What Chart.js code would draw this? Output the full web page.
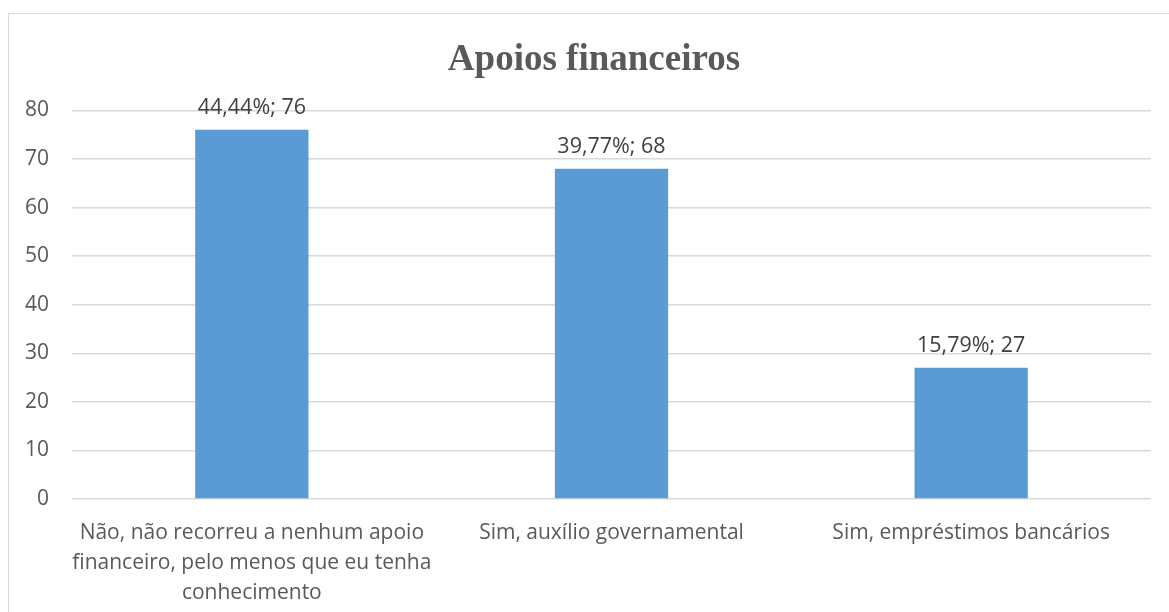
<!DOCTYPE html>
<html>
<head>
<meta charset="utf-8">
<script src="https://cdn.jsdelivr.net/npm/chart.js@4/dist/chart.umd.min.js"></script>
<style>
  html, body { margin: 0; padding: 0; background: #fff; }
  #frame { position: absolute; left: 8px; top: 13px; width: 1200px; height: 700px; border: 1px solid #d9d9d9; }
  #wrap { position: absolute; left: 0; top: 0; width: 1169px; height: 612px; }
</style>
</head>
<body>
<div id="frame"></div>
<div id="wrap"><canvas id="chart"></canvas></div>
<script>
// values
const categories = [
  ['Não, não recorreu a nenhum apoio', 'financeiro, pelo menos que eu tenha', 'conhecimento'],
  'Sim, auxílio governamental',
  'Sim, empréstimos bancários'
];
const counts = [76, 68, 27];
const percents = ['44,44%', '39,77%', '15,79%'];
const yTicks = [0, 10, 20, 30, 40, 50, 60, 70, 80];

const textFont = '"Open Sans", "Noto Sans", sans-serif';

// labels above the bars, "pct; count"
const barLabels = {
  id: 'barLabels',
  afterDatasetsDraw(chart) {
    const ctx = chart.ctx;
    const meta = chart.getDatasetMeta(0);
    ctx.save();
    ctx.font = '21.5px ' + textFont;
    ctx.fillStyle = '#404040';
    ctx.textAlign = 'center';
    ctx.textBaseline = 'bottom';
    meta.data.forEach((bar, i) => {
      ctx.fillText(percents[i] + '; ' + counts[i], bar.x, bar.y - 11);
    });
    ctx.restore();
  }
};

new Chart(document.getElementById('chart'), {
  type: 'bar',
  data: {
    labels: categories,
    datasets: [{
      data: counts,
      backgroundColor: '#5B9BD5',
      borderWidth: 0,
      barPercentage: 0.315,
      categoryPercentage: 1
    }]
  },
  options: {
    responsive: true,
    maintainAspectRatio: false,
    animation: false,
    layout: { padding: { left: 19, right: 0, top: 0, bottom: 0 } },
    plugins: {
      legend: { display: false },
      tooltip: { enabled: false },
      title: {
        display: true,
        text: 'Apoios financeiros',
        color: '#595959',
        font: { family: '"Liberation Serif", "Times New Roman", serif', size: 37, weight: 'bold' },
        padding: { top: 38, bottom: 28 }
      }
    },
    scales: {
      x: {
        grid: { display: false },
        border: { display: false },
        ticks: {
          color: '#595959',
          font: { family: textFont, size: 21, lineHeight: 1.42 },
          padding: 11,
          maxRotation: 0,
          autoSkip: false
        },
        afterFit(scale) { scale.height = 113; }
      },
      y: {
        min: 0,
        max: 80,
        afterBuildTicks(scale) { scale.ticks = yTicks.map(v => ({ value: v })); },
        grid: { color: '#d9d9d9', lineWidth: 1.5, drawTicks: false },
        border: { display: false },
        ticks: {
          color: '#595959',
          font: { family: textFont, size: 21 },
          padding: 23
        },
        afterFit(scale) { scale.width = 53; }
      },
      // empty right-hand gutter so the plot ends where the reference does
      gutter: {
        type: 'linear',
        position: 'right',
        grid: { display: false },
        border: { display: false },
        ticks: { display: false },
        afterFit(scale) { scale.width = 18; }
      }
    }
  },
  plugins: [barLabels]
});
</script>
</body>
</html>
